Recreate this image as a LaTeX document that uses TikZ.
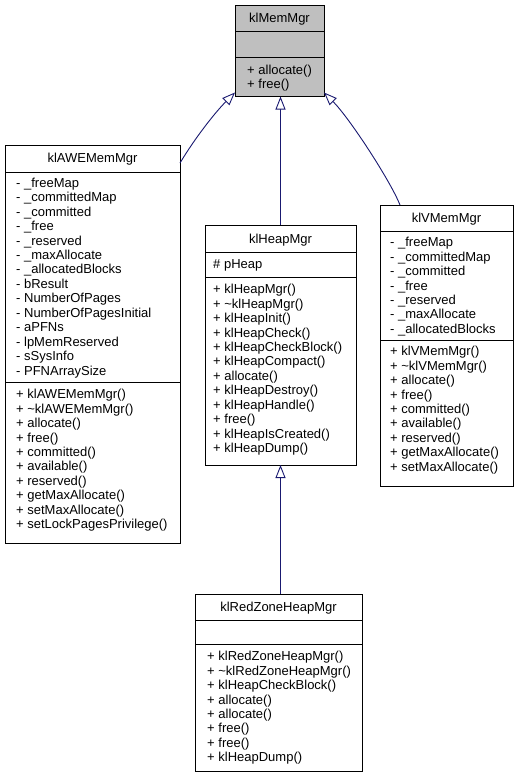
\documentclass[tikz,border=0pt]{standalone}
\usepackage{fontspec}
\setmainfont{Liberation Sans}
\usetikzlibrary{arrows.meta}
\definecolor{edgeblue}{RGB}{25,25,112}
\definecolor{basegray}{RGB}{191,191,191}
\tikzset{
  cls/.style={draw=black, line width=0.9pt, inner sep=0pt, outer sep=0pt},
  boxline/.style={draw=black, line width=0.9pt},
  txt/.style={anchor=base west, inner sep=0pt, font=\fontsize{13}{14.45}\selectfont},
  ttl/.style={txt, anchor=base},
  inh/.style={draw=edgeblue, line width=0.9pt, -{Triangle[open, length=13pt, width=10pt, fill=white]}}
}
\newcommand\classbox[6]{%
  \node[cls, fill=#6, minimum width={#3-#2}, minimum height={#5-#4}] (#1) at ({(#2+#3)/2},{-(#4+#5)/2}) {};}
\newcommand\sepline[3]{%
  \draw[boxline] ([yshift={-(#3-#2)}]#1.north west) -- ([yshift={-(#3-#2)}]#1.north east);}
\newcommand\seclines[4]{%
  \foreach \t [count=\i from 0] in {#4} {\node[txt] (#1\i) at (#2,{-(#3+4.2+14.45*\i)}) {\t};}}
\begin{document}
\begin{tikzpicture}[x=1pt,y=1pt]
\useasboundingbox (0,0) rectangle (519,-779);
% klMemMgr
\classbox{mem}{235}{324}{5}{96.5}{basegray}
\sepline{mem}{5}{31.5}
\sepline{mem}{5}{57}
\node[ttl] (memt) at (279.5,{-(18+4.2)}) {klMemMgr};
\seclines{memm}{247}{70}{+ allocate(), + free()}
% klAWEMemMgr
\classbox{awe}{5}{180}{145}{543}{white}
\sepline{awe}{145}{172}
\sepline{awe}{145}{382}
\node[ttl] (awet) at (92.5,{-(158+4.2)}) {klAWEMemMgr};
\seclines{awea}{16}{183}{- \_freeMap, - \_committedMap, - \_committed, - \_free, - \_reserved, - \_maxAllocate, - \_allocatedBlocks, - bResult, - NumberOfPages, - NumberOfPagesInitial, - aPFNs, - lpMemReserved, - sSysInfo, - PFNArraySize}
\seclines{awem}{16}{394.5}{+ klAWEMemMgr(), + \textasciitilde klAWEMemMgr(), + allocate(), + free(), + committed(), + available(), + reserved(), + getMaxAllocate(), + setMaxAllocate(), + setLockPagesPrivilege()}
% klHeapMgr
\classbox{heap}{205}{356}{225}{465}{white}
\sepline{heap}{225}{252}
\sepline{heap}{225}{277}
\node[ttl] (heapt) at (280.5,{-(239+4.2)}) {klHeapMgr};
\seclines{heapa}{213}{264}{\# pHeap}
\seclines{heapm}{213}{289.5}{+ klHeapMgr(), + \textasciitilde klHeapMgr(), + klHeapInit(), + klHeapCheck(), + klHeapCheckBlock(), + klHeapCompact(), + allocate(), + klHeapDestroy(), + klHeapHandle(), + free(), + klHeapIsCreated(), + klHeapDump()}
% klVMemMgr
\classbox{vmem}{380}{513}{205}{486}{white}
\sepline{vmem}{205}{231.5}
\sepline{vmem}{205}{340}
\node[ttl] (vmemt) at (446.5,{-(218+4.2)}) {klVMemMgr};
\seclines{vmema}{390}{242.5}{- \_freeMap, - \_committedMap, - \_committed, - \_free, - \_reserved, - \_maxAllocate, - \_allocatedBlocks}
\seclines{vmemm}{390}{351.5}{+ klVMemMgr(), + \textasciitilde klVMemMgr(), + allocate(), + free(), + committed(), + available(), + reserved(), + getMaxAllocate(), + setMaxAllocate()}
% klRedZoneHeapMgr
\classbox{red}{195}{362}{594}{771}{white}
\sepline{red}{594}{620}
\sepline{red}{594}{644}
\node[ttl] (redt) at (278.5,{-(607+4.2)}) {klRedZoneHeapMgr};
\seclines{redm}{207}{656.5}{+ klRedZoneHeapMgr(), + \textasciitilde klRedZoneHeapMgr(), + klHeapCheckBlock(), + allocate(), + allocate(), + free(), + free(), + klHeapDump()}
% inheritance edges
\draw[inh] (heap.north) -- (heap.north |- mem.south);
\draw[inh] (heap.south |- red.north) -- (heap.south);
\draw[inh] ([yshift=-18pt]awe.north east) .. controls (195,-138) and (215,-112.5) .. ([yshift=4pt]mem.south west);
\draw[inh] ([xshift=20pt]vmem.north west) .. controls (390,-180) and (349,-117.5) .. ([yshift=4pt]mem.south east);
\end{tikzpicture}
\end{document}
